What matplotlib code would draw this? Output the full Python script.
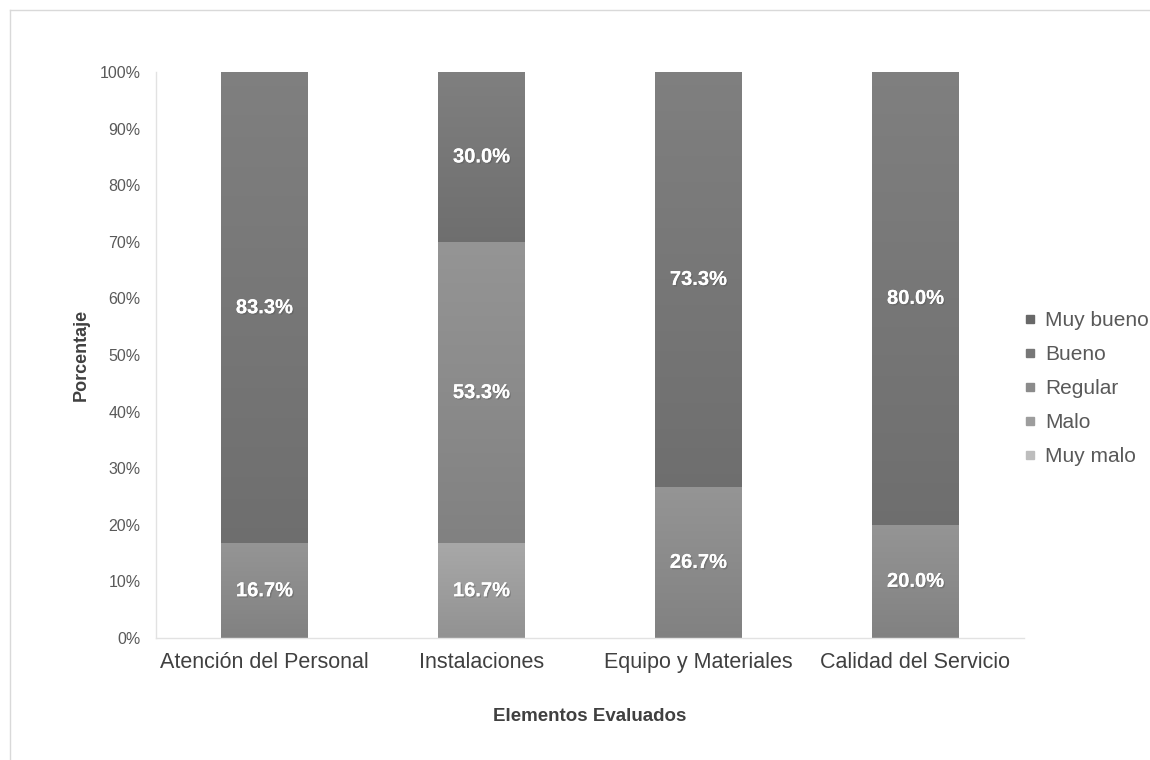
import numpy as np
import matplotlib.pyplot as plt
from matplotlib.lines import Line2D
import matplotlib.patheffects as pe

plt.rcParams['font.family'] = ['Liberation Sans', 'DejaVu Sans']

categorias = ["Atención del Personal", "Instalaciones", "Equipo y Materiales", "Calidad del Servicio"]
niveles = ["Muy bueno", "Bueno", "Regular", "Malo", "Muy malo"]

# porcentajes por nivel (orden de apilado: de abajo hacia arriba)
muy_malo = [0.0, 0.0, 0.0, 0.0]
malo = [0.0, 16.7, 0.0, 0.0]
regular = [16.7, 53.3, 26.7, 20.0]
bueno = [83.3, 30.0, 73.3, 80.0]
muy_bueno = [0.0, 0.0, 0.0, 0.0]

colores = {"Muy bueno": "#686868", "Bueno": "#777777", "Regular": "#8b8b8b",
           "Malo": "#9d9d9d", "Muy malo": "#bdbdbd"}

fig = plt.figure(figsize=(11.5, 7.6), dpi=100)
ax = fig.add_axes([156 / 1150, 122 / 760, 868 / 1150, 566 / 760])

x = np.arange(len(categorias))
serie = [("Muy malo", muy_malo), ("Malo", malo), ("Regular", regular),
         ("Bueno", bueno), ("Muy bueno", muy_bueno)]


def degradado(patch, color):
    # sombreado vertical suave dentro de cada segmento
    x0, y0 = patch.get_x(), patch.get_y()
    w, h = patch.get_width(), patch.get_height()
    if h <= 0:
        return
    rgb = np.array(plt.matplotlib.colors.to_rgb(color))
    t = np.linspace(1.0, 0.0, 64)[:, None]
    col = np.clip(rgb[None, :] * (0.93 + 0.14 * t), 0, 1)
    img = np.repeat(col[:, None, :], 2, axis=1)
    im = ax.imshow(img, extent=(x0, x0 + w, y0, y0 + h), aspect='auto',
                   origin='upper', zorder=2)
    im.set_clip_path(patch)


base = np.zeros(len(categorias))
for nombre, vals in serie:
    vals = np.array(vals)
    bars = ax.bar(x, vals, 0.4, bottom=base, color=colores[nombre],
                  edgecolor='none', zorder=1)
    for b, v in zip(bars, vals):
        degradado(b, colores[nombre])
        if v > 0:
            ax.text(b.get_x() + b.get_width() / 2, b.get_y() + v / 2, f"{v:.1f}%",
                    ha='center', va='center', color='white', fontsize=14.5,
                    fontweight='bold', zorder=4,
                    path_effects=[pe.withSimplePatchShadow(offset=(1, -1),
                                                           shadow_rgbFace='#555555', alpha=0.4),
                                  pe.Normal()])
    base += vals

ax.set_xlim(-0.5, len(categorias) - 0.5)
ax.set_ylim(0, 100)
ax.set_yticks(np.arange(0, 101, 10))
ax.set_yticklabels([f"{v}%" for v in range(0, 101, 10)])
ax.set_xticks(x)
ax.set_xticklabels(categorias, fontsize=15.5, color='#404040')
ax.tick_params(axis='y', labelsize=11.5, colors='#595959', length=0, pad=11)
ax.tick_params(axis='x', length=0, pad=10)
for s in ['top', 'right']:
    ax.spines[s].set_visible(False)
for s in ['left', 'bottom']:
    ax.spines[s].set_color('#e2e2e2')
    ax.spines[s].set_linewidth(1)

ax.set_ylabel("Porcentaje", fontsize=13, fontweight='bold', color='#404040', labelpad=7)
ax.set_xlabel("Elementos Evaluados", fontsize=13.5, fontweight='bold', color='#404040', labelpad=25)

handles = [Line2D([], [], marker='s', linestyle='none', markersize=5.8,
                  color=colores[n]) for n in niveles]
fig.legend(handles, niveles, loc='upper left', bbox_to_anchor=(1022 / 1150, 1 - 311 / 760),
           frameon=False, fontsize=15, handletextpad=0.3, labelspacing=0.72,
           labelcolor='#595959', handlelength=0.8, borderpad=0, borderaxespad=0)

# marco del gráfico
fig.add_artist(Line2D([10 / 1150, 1], [1 - 10 / 760, 1 - 10 / 760], color='#d9d9d9', lw=1,
                      transform=fig.transFigure))
fig.add_artist(Line2D([10 / 1150, 10 / 1150], [0, 1 - 10 / 760], color='#d9d9d9', lw=1,
                      transform=fig.transFigure))

fig.savefig("out.png", dpi=100)
